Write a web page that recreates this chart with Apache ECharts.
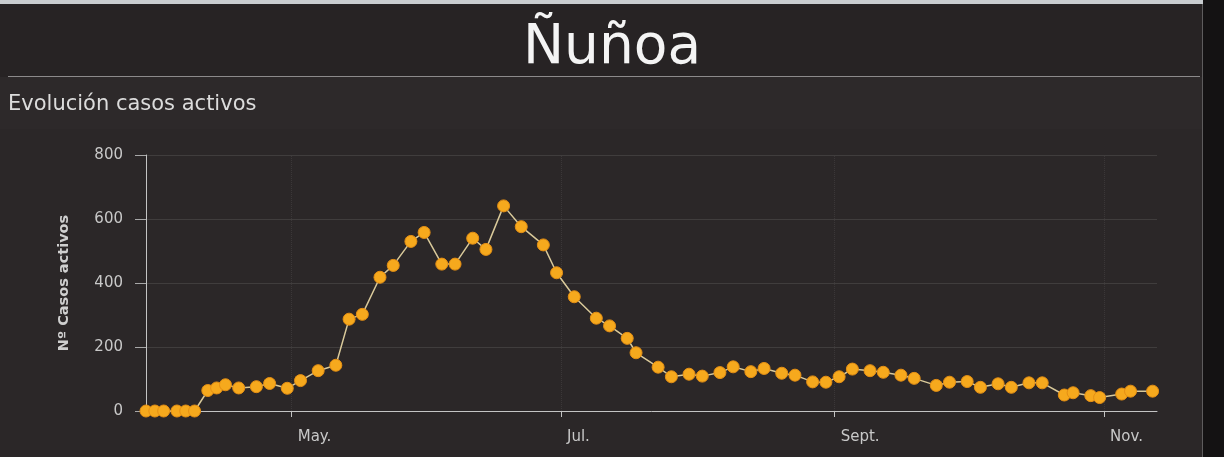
<!DOCTYPE html>
<html>
<head>
<meta charset="utf-8">
<script src="https://cdn.jsdelivr.net/npm/echarts@6/dist/echarts.min.js"></script>
<style>
  html, body { margin: 0; padding: 0; background: #2c2829; }
  #chart { width: 1224px; height: 457px; }
</style>
</head>
<body>
<div id="chart"></div>
<script>
// fechas de informe y casos activos (Ñuñoa, 2020)
const fechas = [
  '2020-03-29', '2020-03-31', '2020-04-02', '2020-04-05', '2020-04-07', '2020-04-09',
  '2020-04-12', '2020-04-14', '2020-04-16', '2020-04-19', '2020-04-23', '2020-04-26',
  '2020-04-30', '2020-05-03', '2020-05-07', '2020-05-11', '2020-05-14', '2020-05-17',
  '2020-05-21', '2020-05-24', '2020-05-28', '2020-05-31', '2020-06-04', '2020-06-07',
  '2020-06-11', '2020-06-14', '2020-06-18', '2020-06-22', '2020-06-27', '2020-06-30',
  '2020-07-04', '2020-07-09', '2020-07-12', '2020-07-16', '2020-07-18', '2020-07-23',
  '2020-07-26', '2020-07-30', '2020-08-02', '2020-08-06', '2020-08-09', '2020-08-13',
  '2020-08-16', '2020-08-20', '2020-08-23', '2020-08-27', '2020-08-30', '2020-09-02',
  '2020-09-05', '2020-09-09', '2020-09-12', '2020-09-16', '2020-09-19', '2020-09-24',
  '2020-09-27', '2020-10-01', '2020-10-04', '2020-10-08', '2020-10-11', '2020-10-15',
  '2020-10-18', '2020-10-23', '2020-10-25', '2020-10-29', '2020-10-31', '2020-11-05',
  '2020-11-07', '2020-11-12'
]
const casosActivos = [
  0, 0, 0, 0, 0, 0,
  64, 72, 82, 72, 76, 86,
  71, 95, 126, 143, 287, 302,
  418, 455, 530, 558, 459, 459,
  540, 505, 641, 576, 519, 432,
  357, 290, 266, 227, 182, 137,
  107, 115, 109, 120, 138, 123,
  133, 118, 112, 91, 90, 107,
  131, 126, 121, 112, 102, 80,
  90, 92, 74, 85, 74, 88,
  88, 50, 57, 48, 42, 53,
  62, 62
]
const mesesTicks = ['2020-05-01', '2020-07-01', '2020-09-01', '2020-11-01']
const mesesLabels = ['May.', 'Jul.', 'Sept.', 'Nov.']
const ejeMin = '2020-03-29'
const ejeMax = '2020-11-13'

function toTime(s) {
  const [y, m, d] = s.split('-').map(Number)
  return new Date(y, m - 1, d).getTime()
}
const tickTimes = mesesTicks.map(toTime)
const fuente = 'DejaVu Sans'

const chart = echarts.init(document.getElementById('chart'))

chart.setOption({
  backgroundColor: '#2c2829',
  animation: false,
  graphic: [
    { type: 'rect', z: -10, shape: { x: 0, y: 0, width: 1224, height: 77 }, style: { fill: '#272324' } },
    { type: 'rect', z: -10, shape: { x: 0, y: 0, width: 1224, height: 4 }, style: { fill: '#c9cdd0' } },
    { type: 'rect', z: -10, shape: { x: 0, y: 77, width: 1224, height: 52 }, style: { fill: '#2d292a' } },
    { type: 'rect', z: -10, shape: { x: 0, y: 129, width: 1224, height: 328 }, style: { fill: '#2b2728' } },
    { type: 'rect', z: -10, shape: { x: 1203, y: 0, width: 21, height: 457 }, style: { fill: '#141213' } },
    { type: 'line', z: -9, shape: { x1: 8, y1: 76.5, x2: 1200, y2: 76.5 }, style: { stroke: '#8c8a8b', lineWidth: 1 } },
    { type: 'line', z: -9, shape: { x1: 1202.5, y1: 4, x2: 1202.5, y2: 457 }, style: { stroke: '#5e5c5d', lineWidth: 1 } }
  ],
  title: [
    {
      text: 'Ñuñoa',
      left: 607,
      top: 16,
      textAlign: 'center',
      textStyle: { color: '#f4f4f4', fontSize: 55, fontWeight: 'normal', fontFamily: fuente }
    },
    {
      text: 'Evolución casos activos',
      left: 3,
      top: 89,
      textStyle: { color: '#dcdcdc', fontSize: 21, fontWeight: 'normal', fontFamily: fuente }
    }
  ],
  grid: { left: 146, right: 67, top: 155, bottom: 46 },
  xAxis: {
    type: 'value',
    min: toTime(ejeMin),
    max: toTime(ejeMax),
    axisLine: { lineStyle: { color: '#c4c4c4', width: 1 } },
    axisTick: {
      show: true,
      customValues: tickTimes,
      length: 6,
      lineStyle: { color: '#c4c4c4' }
    },
    axisLabel: {
      customValues: tickTimes,
      color: '#c8c8c8',
      fontSize: 15,
      fontFamily: fuente,
      align: 'left',
      padding: [0, 0, 0, 6],
      margin: 19,
      formatter: (val) => {
        const i = tickTimes.findIndex(t => Math.abs(t - val) < 43200000)
        return i >= 0 ? mesesLabels[i] : ''
      }
    },
    splitLine: { show: false }
  },
  yAxis: {
    type: 'value',
    min: 0,
    max: 800,
    interval: 200,
    name: 'Nº Casos activos',
    nameLocation: 'middle',
    nameGap: 74,
    nameTextStyle: { color: '#cfcfcf', fontSize: 14.5, fontWeight: 'bold', fontFamily: fuente },
    axisLine: { show: true, lineStyle: { color: '#c4c4c4', width: 1 } },
    axisTick: { show: true, length: 11, lineStyle: { color: '#a8a8a8' } },
    axisLabel: { color: '#c8c8c8', fontSize: 15, fontFamily: fuente, margin: 23 },
    splitLine: { show: true, lineStyle: { color: 'rgba(255,255,255,0.10)' } }
  },
  series: [
    {
      name: 'Casos activos',
      type: 'line',
      data: fechas.map((f, i) => [toTime(f), casosActivos[i]]),
      symbol: 'circle',
      symbolSize: 12,
      lineStyle: { color: '#d9c99a', width: 1.5 },
      itemStyle: { color: '#f6a91d', borderColor: '#e58f14', borderWidth: 1 },
      markLine: {
        silent: true,
        symbol: 'none',
        label: { show: false },
        lineStyle: { color: 'rgba(255,255,255,0.08)', type: 'dotted', width: 1 },
        data: tickTimes.map(t => ({ xAxis: t }))
      }
    }
  ]
})

window.addEventListener('resize', () => chart.resize())
</script>
</body>
</html>
